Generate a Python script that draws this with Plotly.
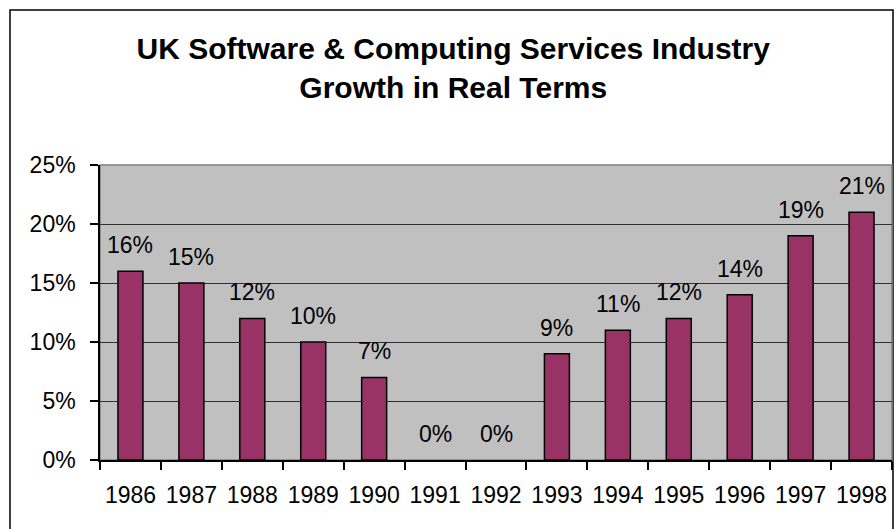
import plotly.graph_objects as go

years = ["1986", "1987", "1988", "1989", "1990", "1991", "1992",
         "1993", "1994", "1995", "1996", "1997", "1998"]
growth = [16, 15, 12, 10, 7, 0, 0, 9, 11, 12, 14, 19, 21]
y_ticks = [0, 5, 10, 15, 20, 25]
y_tick_text = ["0%", "5%", "10%", "15%", "20%", "25%"]
title_lines = ["UK Software & Computing Services Industry", "Growth in Real Terms"]

FONT = "Liberation Sans, Arial, sans-serif"
W, H = 894, 529
ML, MR, MT, MB = 100, 2, 165, 69
PW, PH = W - ML - MR, H - MT - MB

xpos = list(range(len(years)))
boundaries = [i - 0.5 for i in range(len(years) + 1)]

fig = go.Figure()
fig.add_trace(go.Bar(
    x=xpos, y=growth, width=0.41,
    marker=dict(color="#993366",
                line=dict(color="black", width=[1.5 if v else 0 for v in growth])),
    hoverinfo="skip",
))

for i, v in zip(xpos, growth):
    fig.add_annotation(x=i, y=v, xref="x", yref="y", text=f"{v}%", showarrow=False,
                       yanchor="bottom", yshift=11,
                       font=dict(family=FONT, size=23, color="black"))

# outer chart border (bottom edge lies beyond the visible canvas)
fig.add_shape(type="rect", xref="paper", yref="paper",
              x0=(10 - ML) / PW, x1=(893 - ML) / PW,
              y0=-(540 - (H - MB)) / PH, y1=1 + (MT - 10) / PH,
              line=dict(color="black", width=1.5), layer="below")
# plot area border (gray)
fig.add_shape(type="rect", xref="paper", yref="paper", x0=0, x1=1, y0=0, y1=1,
              line=dict(color="#808080", width=1.5), layer="below")

fig.update_layout(
    width=W, height=H,
    margin=dict(l=ML, r=MR, t=MT, b=MB),
    paper_bgcolor="white", plot_bgcolor="#C0C0C0",
    showlegend=False,
    title=dict(text="<br>".join(title_lines), xref="container", x=0.507,
               xanchor="center", yref="container", y=1 - 59 / H, yanchor="top",
               font=dict(family=FONT, size=30, color="black", weight="bold")),
    font=dict(family=FONT, size=23, color="black"),
)
fig.update_xaxes(
    range=[-0.5, len(years) - 0.5],
    tickvals=xpos, ticktext=years, ticks="",
    showline=True, linecolor="black", linewidth=1.5,
    ticklabelstandoff=14,
    minor=dict(tickvals=boundaries, ticks="outside", ticklen=8,
               tickcolor="black", tickwidth=1.5, showgrid=False),
    showgrid=False, zeroline=False,
    tickfont=dict(family=FONT, size=23, color="black"),
)
fig.update_yaxes(
    range=[0, 25], tickvals=y_ticks, ticktext=y_tick_text,
    showline=True, linecolor="black", linewidth=1.5,
    ticks="outside", ticklen=8, tickcolor="black", tickwidth=1.5,
    ticklabelstandoff=10,
    showgrid=True, gridcolor="#303030", gridwidth=1, zeroline=False,
    tickfont=dict(family=FONT, size=23, color="black"),
)

fig.write_html("out.html")
